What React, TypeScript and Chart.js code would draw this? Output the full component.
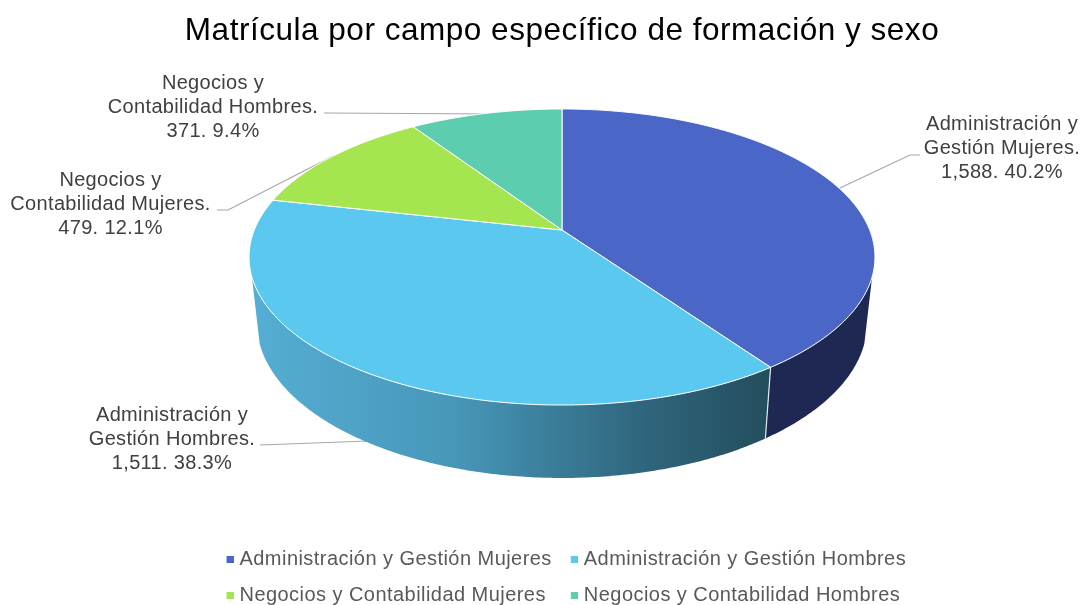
import React, { useEffect, useRef } from "react";
import { Chart, registerables } from "chart.js";

Chart.register(...registerables);

const TITLE = "Matrícula por campo específico de formación y sexo";
const categories = [
  "Administración y Gestión Mujeres",
  "Administración y Gestión Hombres",
  "Negocios y Contabilidad Mujeres",
  "Negocios y Contabilidad Hombres",
];
const legendPads = [" ", "", "  ", ""];
const values = [1588, 1511, 479, 371];
const valueTexts = ["1,588", "1,511", "479", "371"];
const labelFirstLines = ["Administración y", "Administración y", "Negocios y", "Negocios y"];
const labelSecondLines = ["Gestión Mujeres.", "Gestión Hombres.", "Contabilidad Mujeres.", "Contabilidad Hombres."];
const topColors = ["#4a66c6", "#5bc8f0", "#a5e650", "#5dcdb0"];

const TOP = { x: 562, y: 230, a: 143.1, b: 307.7 };
const BOTTOM = { x: 562, y: 294.5, a: 150, b: 300 };
const K = 0.1824;
const SIDE_START = (18 * Math.PI) / 180;
const SIDE_END = (162 * Math.PI) / 180;
const LEGEND_LEFT = 213.5;
const LEGEND_WIDTH = 715;

const labelCenters = [
  { x: 1002, y: 124 },
  { x: 172, y: 415 },
  { x: 110.5, y: 180 },
  { x: 213, y: 83 },
];
const leaderLines = [
  [[920, 155], [910, 155], [840, 188]],
  [[260, 445], [368, 441]],
  [[217, 210], [228, 210], [333, 156]],
  [[324, 113], [495, 114]],
];

function project(angle: number, p: typeof TOP) {
  const u = Math.cos(angle);
  const v = Math.sin(angle);
  const d = 1 - K * v;
  return [p.x + (p.b * u) / d, p.y + (p.a * v) / d];
}

function traceArc(ctx: CanvasRenderingContext2D, from: number, to: number, p: typeof TOP) {
  const steps = Math.max(2, Math.ceil(Math.abs(to - from) / 0.01));
  for (let i = 0; i <= steps; i++) {
    const [x, y] = project(from + ((to - from) * i) / steps, p);
    ctx.lineTo(x, y);
  }
}

function legendMarker(color: string) {
  const c = document.createElement("canvas");
  c.width = 8;
  c.height = 7;
  const g = c.getContext("2d")!;
  g.fillStyle = color;
  g.fillRect(1, 0, 7, 7);
  return c;
}

function spaced(obj: any, name: string, ctx: any, spacing: string) {
  const fn = obj[name].bind(obj);
  obj[name] = (...args: any[]) => {
    ctx.save();
    ctx.letterSpacing = spacing;
    const r = fn(...args);
    ctx.restore();
    return r;
  };
}

const legendLayout = {
  id: "legendLayout",
  beforeLayout(chart: any) {
    const lg = chart.legend;
    if (!lg._capped) {
      const update = lg.update.bind(lg);
      lg.update = (w: number, h: number, m: any) => update(Math.min(w, LEGEND_WIDTH), h, m);
      spaced(lg, "update", chart.ctx, "0.45px");
      spaced(lg, "draw", chart.ctx, "0.45px");
      spaced(chart.titleBlock, "draw", chart.ctx, "0.52px");
      lg._capped = true;
    }
  },
  afterLayout(chart: any) {
    chart.legend.left = LEGEND_LEFT;
    chart.legend.right = LEGEND_LEFT + LEGEND_WIDTH;
  },
};

const pie3d = {
  id: "pie3d",
  beforeDatasetsDraw(chart: any) {
    const ctx: any = chart.ctx;
    const arcs = chart.getDatasetMeta(0).data;
    const total = values.reduce((s, v) => s + v, 0);

    ctx.save();
    ctx.strokeStyle = "#a6a6a6";
    ctx.lineWidth = 1.2;
    leaderLines.forEach((pts) => {
      ctx.beginPath();
      pts.forEach(([x, y], i) => (i ? ctx.lineTo(x, y) : ctx.moveTo(x, y)));
      ctx.stroke();
    });

    // side wall
    const sideGrad = ctx.createLinearGradient(250, 0, 765, 0);
    sideGrad.addColorStop(0, "#55aed4");
    sideGrad.addColorStop(0.4, "#4797b8");
    sideGrad.addColorStop(0.75, "#30677f");
    sideGrad.addColorStop(1, "#244f5e");
    const sideFill = ["#1e2853", sideGrad];
    [0, 1].forEach((i) => {
      const from = Math.max(arcs[i].startAngle, SIDE_START);
      const to = Math.min(arcs[i].endAngle, SIDE_END);
      if (to <= from) return;
      ctx.beginPath();
      traceArc(ctx, from, to, TOP);
      traceArc(ctx, to, from, BOTTOM);
      ctx.closePath();
      ctx.fillStyle = sideFill[i] as any;
      ctx.fill();
    });
    // seam between the two wall pieces
    const seamA = project(arcs[0].endAngle, TOP);
    const seamB = project(arcs[0].endAngle, BOTTOM);
    ctx.strokeStyle = "#e6e9ee";
    ctx.lineWidth = 1.2;
    ctx.beginPath();
    ctx.moveTo(seamA[0], seamA[1]);
    ctx.lineTo(seamB[0], seamB[1]);
    ctx.stroke();

    // top face
    arcs.forEach((arc: any, i: number) => {
      ctx.beginPath();
      ctx.moveTo(TOP.x, TOP.y);
      traceArc(ctx, arc.startAngle, arc.endAngle, TOP);
      ctx.closePath();
      ctx.fillStyle = topColors[i];
      ctx.fill();
      ctx.strokeStyle = "#ffffff";
      ctx.lineWidth = 1;
      ctx.lineJoin = "round";
      ctx.stroke();
    });

    // data labels
    ctx.fillStyle = "#404040";
    ctx.font = '20px "Liberation Sans"';
    ctx.letterSpacing = "0.33px";
    ctx.textAlign = "center";
    ctx.textBaseline = "middle";
    values.forEach((v, i) => {
      const { x, y } = labelCenters[i];
      ctx.fillText(labelFirstLines[i], x, y);
      ctx.fillText(labelSecondLines[i], x, y + 24.3);
      ctx.fillText(`${valueTexts[i]}. ${((v / total) * 100).toFixed(1)}%`, x, y + 48.6);
    });
    ctx.restore();
    return false;
  },
};

export default function App() {
  const ref = useRef<HTMLCanvasElement>(null);
  useEffect(() => {
    document.body.style.margin = "0";
    const markers = topColors.map(legendMarker);
    const baseLabels = (Chart as any).overrides.pie.plugins.legend.labels.generateLabels;
    const chart = new Chart(ref.current!, {
      type: "pie",
      data: {
        labels: categories,
        datasets: [{ data: values, backgroundColor: topColors, borderWidth: 0 }],
      },
      plugins: [legendLayout, pie3d],
      options: {
        responsive: false,
        animation: false,
        layout: { padding: { left: 41, right: 0, top: 0, bottom: -10 } },
        plugins: {
          title: {
            display: true,
            text: TITLE,
            color: "#000000",
            font: { family: '"Liberation Sans"', size: 31.5, weight: "normal" },
            padding: { top: 12, bottom: 10 },
          },
          tooltip: { enabled: false },
          legend: {
            position: "bottom",
            align: "start",
            labels: {
              color: "#595959",
              font: { family: '"Liberation Sans"', size: 20 },
              usePointStyle: true,
              boxHeight: 7,
              pointStyleWidth: 0.01,
              padding: 16,
              generateLabels: (c: any) =>
                baseLabels(c).map((item: any, i: number) => ({
                  ...item,
                  text: item.text + legendPads[i],
                  pointStyle: markers[i],
                })),
            },
          },
        },
      },
    } as any);
    return () => chart.destroy();
  }, []);
  return <canvas ref={ref} width={1083} height={605} style={{ display: "block", filter: "blur(0.4px)" }} />;
}
